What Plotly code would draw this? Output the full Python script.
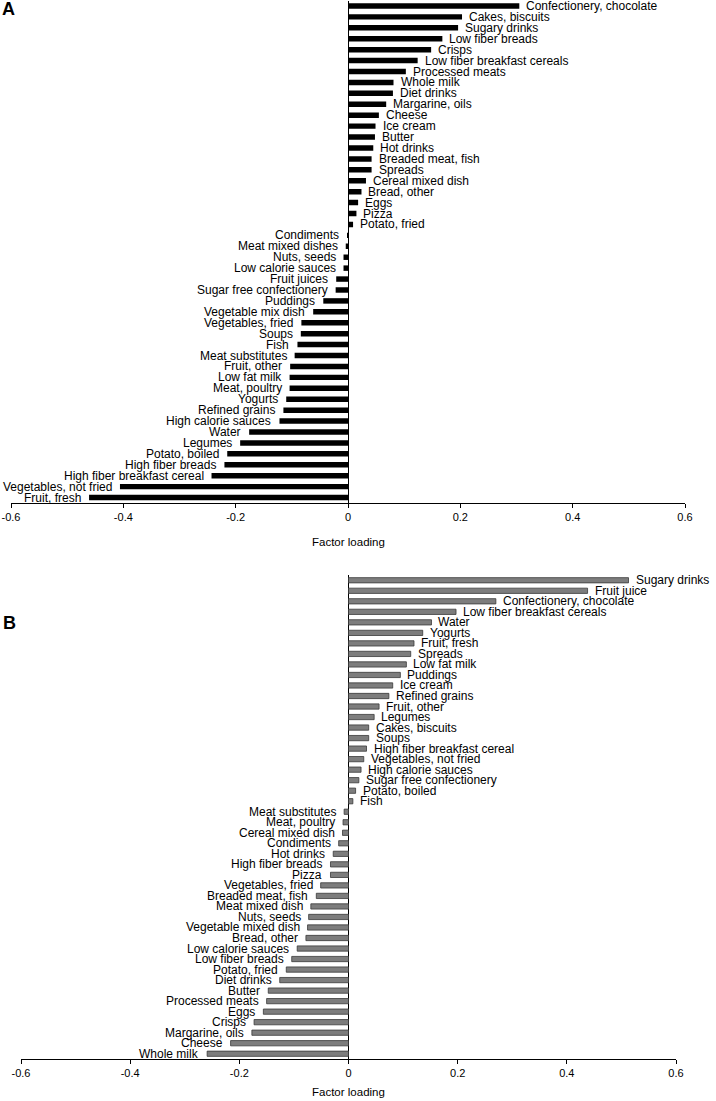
import plotly.graph_objects as go

# Panel A
cats_a = ["Confectionery, chocolate", "Cakes, biscuits", "Sugary drinks", "Low fiber breads", "Crisps",
          "Low fiber breakfast cereals", "Processed meats", "Whole milk", "Diet drinks", "Margarine, oils",
          "Cheese", "Ice cream", "Butter", "Hot drinks", "Breaded meat, fish", "Spreads", "Cereal mixed dish",
          "Bread, other", "Eggs", "Pizza", "Potato, fried", "Condiments", "Meat mixed dishes", "Nuts, seeds",
          "Low calorie sauces", "Fruit juices", "Sugar free confectionery", "Puddings", "Vegetable mix dish",
          "Vegetables, fried", "Soups", "Fish", "Meat substitutes", "Fruit, other", "Low fat milk",
          "Meat, poultry", "Yogurts", "Refined grains", "High calorie sauces", "Water", "Legumes",
          "Potato, boiled", "High fiber breads", "High fiber breakfast cereal", "Vegetables, not fried",
          "Fruit, fresh"]
vals_a = [0.305, 0.203, 0.196, 0.168, 0.148, 0.124, 0.103, 0.081, 0.080, 0.068, 0.055, 0.049, 0.048,
          0.045, 0.042, 0.042, 0.032, 0.024, 0.018, 0.015, 0.009, -0.001, -0.004, -0.008, -0.008, -0.021,
          -0.022, -0.044, -0.062, -0.083, -0.084, -0.090, -0.095, -0.103, -0.104, -0.104, -0.110, -0.115,
          -0.122, -0.176, -0.192, -0.215, -0.220, -0.243, -0.406, -0.461]

# Panel B
cats_b = ["Sugary drinks", "Fruit juice", "Confectionery, chocolate", "Low fiber breakfast cereals", "Water",
          "Yogurts", "Fruit, fresh", "Spreads", "Low fat milk", "Puddings", "Ice cream", "Refined grains",
          "Fruit, other", "Legumes", "Cakes, biscuits", "Soups", "High fiber breakfast cereal",
          "Vegetables, not fried", "High calorie sauces", "Sugar free confectionery", "Potato, boiled", "Fish",
          "Meat substitutes", "Meat, poultry", "Cereal mixed dish", "Condiments", "Hot drinks",
          "High fiber breads", "Pizza", "Vegetables, fried", "Breaded meat, fish", "Meat mixed dish",
          "Nuts, seeds", "Vegetable mixed dish", "Bread, other", "Low calorie sauces", "Low fiber breads",
          "Potato, fried", "Diet drinks", "Butter", "Processed meats", "Eggs", "Crisps", "Margarine, oils",
          "Cheese", "Whole milk"]
vals_b = [0.513, 0.438, 0.270, 0.197, 0.152, 0.136, 0.120, 0.114, 0.106, 0.095, 0.081, 0.074, 0.056,
          0.047, 0.037, 0.037, 0.033, 0.028, 0.023, 0.019, 0.013, 0.008, -0.008, -0.010, -0.011, -0.018,
          -0.028, -0.033, -0.033, -0.051, -0.059, -0.069, -0.073, -0.075, -0.078, -0.094, -0.104, -0.114,
          -0.126, -0.147, -0.150, -0.156, -0.173, -0.177, -0.216, -0.259]

x_ticks = [-0.6, -0.4, -0.2, 0, 0.2, 0.4, 0.6]
x_tick_text = ["-0.6", "-0.4", "-0.2", "0", "0.2", "0.4", "0.6"]
x_title = "Factor loading"

FONT = "Liberation Sans, Arial, sans-serif"

W, H = 716, 1101
A_dom_x = [11 / W, 685 / W]
A_dom_y = [1 - 503 / H, 1 - 0.5 / H]
B_dom_x = [21 / W, 676 / W]
B_dom_y = [1 - 1059 / H, 1 - 575 / H]

fig = go.Figure()
fig.add_trace(go.Bar(x=vals_a, y=cats_a, orientation="h", xaxis="x", yaxis="y",
                     marker=dict(color="black", line=dict(width=0)), showlegend=False))
fig.add_trace(go.Bar(x=vals_b, y=cats_b, orientation="h", xaxis="x2", yaxis="y2",
                     marker=dict(color="#7d7d7d", line=dict(color="#3a3a3a", width=0.8)), showlegend=False))

annotations = []
for cats, vals, xr, yr in [(cats_a, vals_a, "x", "y"), (cats_b, vals_b, "x2", "y2")]:
    for c, v in zip(cats, vals):
        annotations.append(dict(x=v, y=c, xref=xr, yref=yr, text=c, showarrow=False,
                                xanchor="left" if v > 0 else "right", xshift=5 if v > 0 else -6,
                                font=dict(family=FONT, size=12, color="black")))

# axis titles
annotations.append(dict(x=sum(A_dom_x) / 2, y=1 - 542 / H, xref="paper", yref="paper", text=x_title,
                        showarrow=False, xanchor="center", yanchor="middle",
                        font=dict(family=FONT, size=11.5, color="black")))
annotations.append(dict(x=sum(B_dom_x) / 2, y=1 - 1092 / H, xref="paper", yref="paper", text=x_title,
                        showarrow=False, xanchor="center", yanchor="middle",
                        font=dict(family=FONT, size=11.5, color="black")))
# panel letters
annotations.append(dict(x=0.0, y=1 - 9 / H, xref="paper", yref="paper", text="<b>A</b>", showarrow=False,
                        xanchor="left", yanchor="middle", font=dict(family=FONT, size=18, color="black")))
annotations.append(dict(x=0.0014, y=1 - 623 / H, xref="paper", yref="paper", text="<b>B</b>",
                        showarrow=False, xanchor="left", yanchor="middle",
                        font=dict(family=FONT, size=18, color="black")))

xaxis_common = dict(range=[-0.6, 0.6], tickvals=x_ticks, ticktext=x_tick_text, showgrid=False,
                    zeroline=True, zerolinecolor="black", zerolinewidth=1, showline=True,
                    linecolor="black", linewidth=1, ticks="outside", ticklen=4, tickcolor="black",
                    automargin=False,
                    tickfont=dict(family=FONT, size=11, color="black"))
yaxis_common = dict(type="category", categoryorder="array", automargin=False,
                    showticklabels=False, showgrid=False, zeroline=False, showline=False, ticks="")

fig.update_layout(
    width=W, height=H,
    margin=dict(l=0, r=0, t=0, b=0, autoexpand=False),
    plot_bgcolor="white", paper_bgcolor="white",
    bargap=0.5,
    xaxis=dict(domain=A_dom_x, anchor="y", **xaxis_common),
    yaxis=dict(domain=A_dom_y, anchor="x", categoryarray=cats_a,
               range=[len(cats_a) - 0.5, -0.5], **yaxis_common),
    xaxis2=dict(domain=B_dom_x, anchor="y2", **xaxis_common),
    yaxis2=dict(domain=B_dom_y, anchor="x2", categoryarray=cats_b,
                range=[len(cats_b) - 0.5, -0.5], **yaxis_common),
    annotations=annotations,
)

fig.write_html("out.html", config={"displayModeBar": False},
               post_script="document.body.style.margin='0';document.body.style.padding='0';")
